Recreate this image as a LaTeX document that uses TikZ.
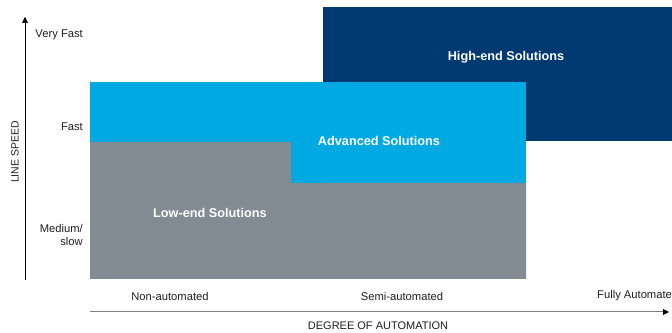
\documentclass[tikz,border=0pt]{standalone}
\usepackage{fontspec}
\setmainfont{Liberation Sans}
\usetikzlibrary{arrows.meta}
\definecolor{hiblue}{RGB}{0,58,112}
\definecolor{advblue}{RGB}{0,169,226}
\definecolor{lowgray}{RGB}{130,138,146}
\definecolor{axgray}{RGB}{128,128,128}
\definecolor{txt}{RGB}{30,30,30}
\begin{document}
\begin{tikzpicture}[x=1pt,y=1pt,
  axlabel/.style={font=\fontsize{11.2}{13}\selectfont, text=txt, inner sep=0pt},
  ylabel/.style={axlabel, anchor=east, align=right},
  sollabel/.style={font=\fontsize{12.7}{15}\selectfont\bfseries, text=white, inner sep=0pt}]
\useasboundingbox (0,0) rectangle (672,332);
% rectangles
\fill[hiblue] (323,325) rectangle (672,191);
\fill[advblue] (90,250) rectangle (526,149);
\fill[lowgray] (90,190) -- (291,190) -- (291,149) -- (526,149) -- (526,53) -- (90,53) -- cycle;
% solution labels
\node[sollabel] (hi) at (506,275) {High-end Solutions};
\node[sollabel] (adv) at (379,191) {Advanced Solutions};
\node[sollabel] (low) at (210,119) {Low-end Solutions};
% axes
\coordinate (yb) at (25,52);
\coordinate (yt) at (25,315);
\draw[black, line width=0.6pt, -{Triangle[length=6pt,width=6pt]}] (yb) -- (yt);
\coordinate (xl) at (90,20);
\coordinate (xr) at (669,20);
\draw[axgray, line width=1pt, -{Triangle[length=6pt,width=6pt,fill=black,color=black]}] (xl) -- (xr);
% y labels
\node[ylabel] (vf) at (83,297) {Very Fast};
\node[ylabel] (fa) at (83,205) {Fast};
\node[ylabel] (ms) at (83,97) {Medium/\\slow};
\node[axlabel, rotate=90, font=\fontsize{10.5}{12}\selectfont] (ls) at (15,180) {LINE SPEED};
% x labels
\node[axlabel] (na) at (170,36) {Non-automated};
\node[axlabel] (sa) at (402,36) {Semi-automated};
\node[axlabel, anchor=west] (fa2) at (597,36) {Fully Automated};
\node[axlabel, font=\fontsize{11}{13}\selectfont] (doa) at (378,6) {DEGREE OF AUTOMATION};
\end{tikzpicture}
\end{document}
